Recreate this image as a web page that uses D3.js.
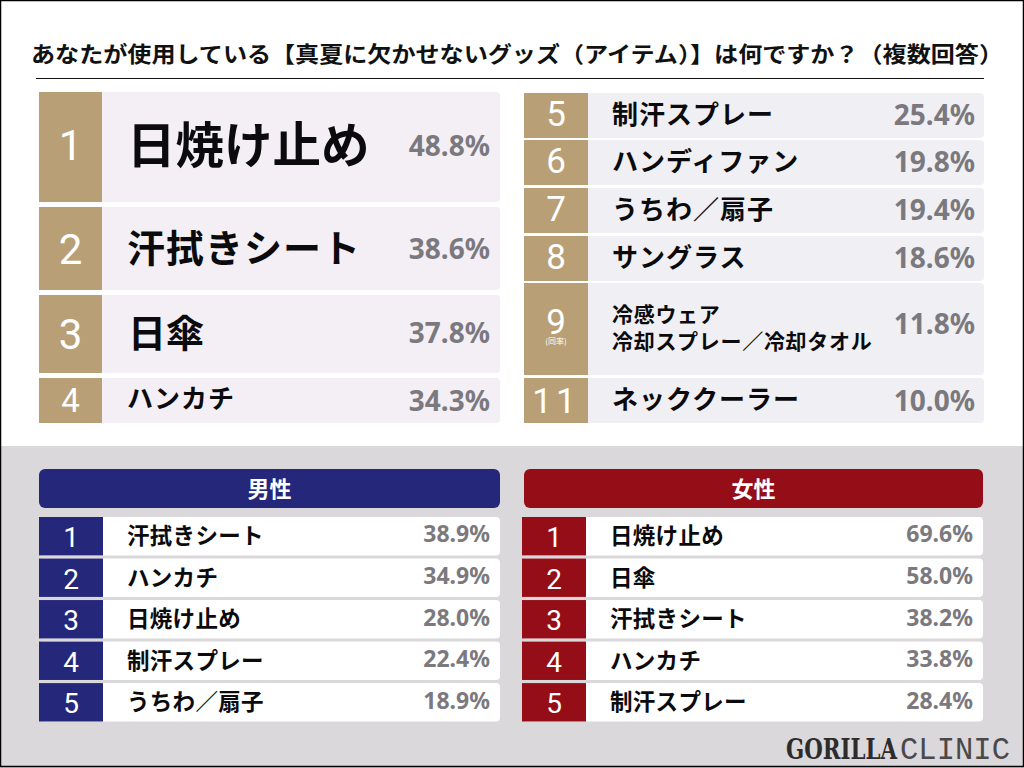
<!DOCTYPE html>
<html lang="ja">
<head>
<meta charset="utf-8">
<script src="https://cdn.jsdelivr.net/npm/d3@7"></script>
<style>
  html, body { margin: 0; padding: 0; background: #fff; }
  svg { display: block; }
  text { font-family: "Noto Sans CJK JP", sans-serif; }
  .pct { font-family: "Noto Sans", "Noto Sans CJK JP", sans-serif; font-weight: 700; fill: #7b797e; }
  .rank { font-family: Roboto, sans-serif; font-weight: 400; fill: #fff; }
  .tie { font-family: "Noto Sans CJK JP", sans-serif; }
  .name { font-weight: 700; fill: #0b0b0d; }
</style>
</head>
<body>
<svg id="chart" width="1024" height="768" viewBox="0 0 1024 768"></svg>
<script>
// Data.
const titleText = 'あなたが使用している【真夏に欠かせないグッズ（アイテム）】は何ですか？（複数回答）';

const overallRanks  = [ '1', '2', '3', '4', '5', '6', '7', '8', '9', '11' ];
const overallItems  = [ '日焼け止め', '汗拭きシート', '日傘', 'ハンカチ', '制汗スプレー', 'ハンディファン', 'うちわ／扇子', 'サングラス', '冷感ウェア\n冷却スプレー／冷却タオル', 'ネッククーラー' ];
const overallValues = [ 48.8, 38.6, 37.8, 34.3, 25.4, 19.8, 19.4, 18.6, 11.8, 10.0 ];

const genderRanks = [ '1', '2', '3', '4', '5' ];
const maleItems   = [ '汗拭きシート', 'ハンカチ', '日焼け止め', '制汗スプレー', 'うちわ／扇子' ];
const maleValues  = [ 38.9, 34.9, 28.0, 22.4, 18.9 ];
const femaleItems  = [ '日焼け止め', '日傘', '汗拭きシート', 'ハンカチ', '制汗スプレー' ];
const femaleValues = [ 69.6, 58.0, 38.2, 33.8, 28.4 ];

const svg = d3.select( '#chart' );
const pct = d3.format( '.1f' );

// Page background, lower band and frame.
svg.append( 'rect' ).attr( 'y', 446 ).attr( 'width', 1024 ).attr( 'height', 322 ).attr( 'fill', '#dad8db' );
svg.append( 'rect' ).attr( 'x', 0.5 ).attr( 'y', 0.5 ).attr( 'width', 1023 ).attr( 'height', 766 )
  .attr( 'fill', 'none' ).attr( 'stroke', '#000' ).attr( 'stroke-width', 1.5 );

// Title and rule.
svg.append( 'text' )
  .attr( 'x', 31 ).attr( 'y', 62 )
  .attr( 'textLength', 972 ).attr( 'lengthAdjust', 'spacingAndGlyphs' )
  .attr( 'font-size', 22 ).attr( 'font-weight', 700 ).attr( 'fill', '#111' )
  .text( titleText );
svg.append( 'line' ).attr( 'x1', 36 ).attr( 'x2', 984 ).attr( 'y1', 78.5 ).attr( 'y2', 78.5 )
  .attr( 'stroke', '#111' ).attr( 'stroke-width', 1 );

// Draws one column of ranking rows. Row tops come from a band scale or a
// hand-placed ordinal scale, since the top rows differ in height.
function drawRows ( opts ) {
  const rows = opts.items.map( ( item, i ) => ( {
    rank : opts.ranks[i], item : item, value : opts.values[i], i : i
  } ) );
  const g = svg.append( 'g' ).selectAll( 'g' ).data( rows ).enter().append( 'g' )
    .attr( 'transform', d => `translate( ${opts.x}, ${opts.top( d.rank )} )` );

  g.append( 'rect' )
    .attr( 'width', opts.width ).attr( 'height', d => opts.height( d.rank ) )
    .attr( 'rx', 4 ).attr( 'fill', opts.rowFill );
  g.append( 'rect' )
    .attr( 'width', opts.rankWidth ).attr( 'height', d => opts.height( d.rank ) )
    .attr( 'fill', opts.rankFill );

  const rank = g.append( 'text' ).attr( 'class', 'rank' )
    .attr( 'x', opts.rankWidth / 2 )
    .attr( 'y', d => opts.height( d.rank ) / 2 + opts.rankSize( d.i ) * 0.36 + opts.rankDy( d.i ) )
    .attr( 'text-anchor', 'middle' )
    .attr( 'font-size', d => opts.rankSize( d.i ) )
    .attr( 'letter-spacing', d => d.rank === '11' ? 4 : 0 )
    .text( d => d.rank );

  // The tied rank carries its note in the same text, on a second line.
  rank.filter( d => d.rank === '9' ).append( 'tspan' ).attr( 'class', 'tie' )
    .attr( 'x', opts.rankWidth / 2 ).attr( 'dy', 10.5 )
    .attr( 'font-size', 8 )
    .text( '(同率)' );

  g.each( function ( d ) {
    const lines = d.item.split( '\n' );
    const size  = opts.nameSize( d.i );
    const x     = opts.nameX( d.i );
    const text  = d3.select( this ).append( 'text' ).attr( 'class', 'name' )
      .attr( 'x', x )
      .attr( 'y', opts.height( d.rank ) / 2 + size * 0.36 + opts.nameDy( d.i ) - ( lines.length - 1 ) / 2 * 27 )
      .attr( 'font-size', size )
      .attr( 'letter-spacing', opts.nameSpacing( d.i ) );
    lines.forEach( ( line, n ) => {
      text.append( 'tspan' ).attr( 'x', x ).attr( 'dy', n ? 27 : 0 ).text( line );
    } );
  } );

  g.append( 'text' ).attr( 'class', 'pct' )
    .attr( 'x', opts.pctX )
    .attr( 'y', d => opts.height( d.rank ) / 2 + opts.pctSize * 0.36 + opts.pctDy( d.i ) )
    .attr( 'text-anchor', 'end' )
    .attr( 'font-size', opts.pctSize )
    .text( d => pct( d.value ) + '%' );
}

// Overall ranking, left and right columns.
const gold = '#b99f75';
const leftRanks  = overallRanks.slice( 0, 4 );
const rightRanks = overallRanks.slice( 4 );
const leftTop    = d3.scaleOrdinal( leftRanks,  [ 92, 207, 295, 378 ] );
const leftHeight = d3.scaleOrdinal( leftRanks,  [ 110, 83, 78, 45 ] );
const rightTop    = d3.scaleOrdinal( rightRanks, [ 93, 140, 188, 236, 283, 378 ] );
const rightHeight = d3.scaleOrdinal( rightRanks, [ 45, 45, 45, 45, 92, 45 ] );

drawRows( {
  x : 39, width : 461, rankWidth : 63, rowFill : '#f3eff5', rankFill : gold,
  ranks : leftRanks, items : overallItems.slice( 0, 4 ), values : overallValues.slice( 0, 4 ),
  top : leftTop, height : leftHeight,
  rankSize : i => [ 42, 42, 42, 33 ][i],
  rankDy : i => [ -2, 0, 0, 0 ][i],
  nameSize : i => [ 48.5, 38, 38, 26 ][i],
  nameX : i => [ 88, 88, 89, 88 ][i],
  nameDy : i => [ -1, 0, -1, -2 ][i],
  nameSpacing : i => [ 0, 1, 0, 1 ][i],
  pctX : 451, pctSize : 28, pctDy : i => [ -1, 0, -1, 0 ][i]
} );

drawRows( {
  x : 524, width : 460, rankWidth : 64, rowFill : '#f0eff3', rankFill : gold,
  ranks : rightRanks, items : overallItems.slice( 4 ), values : overallValues.slice( 4 ),
  top : rightTop, height : rightHeight,
  rankSize : i => 35,
  rankDy : i => [ -2, -2, -2, -2, -8, 0 ][i],
  nameSize : i => i === 4 ? 21 : 26,
  nameX : i => 88,
  nameDy : i => -1,
  nameSpacing : i => i === 4 ? 0.7 : 1,
  pctX : 451, pctSize : 28, pctDy : i => [ -1, -1, -1, -1, -5, 0 ][i]
} );

// Gender panels.
const genderTop = d3.scaleBand().domain( genderRanks ).range( [ 517, 721.5 ] ).paddingInner( 0.075 ).paddingOuter( 0 );

function drawGender ( x, headX, headW, label, color, items, values ) {
  svg.append( 'rect' ).attr( 'x', headX ).attr( 'y', 469 ).attr( 'width', headW ).attr( 'height', 39 )
    .attr( 'rx', 6 ).attr( 'fill', color );
  svg.append( 'text' )
    .attr( 'x', headX + headW / 2 ).attr( 'y', 496.5 ).attr( 'text-anchor', 'middle' )
    .attr( 'font-size', 22 ).attr( 'font-weight', 700 ).attr( 'fill', '#fff' )
    .text( label );
  drawRows( {
    x : x, width : 461, rankWidth : 64, rowFill : '#fff', rankFill : color,
    ranks : genderRanks, items : items, values : values,
    top : r => genderTop( r ), height : () => genderTop.bandwidth(),
    rankSize : i => 28,
    rankDy : i => 1,
    nameSize : i => 22.5,
    nameX : i => 88,
    nameDy : i => 0,
    nameSpacing : i => 0.3,
    pctX : 451, pctSize : 23, pctDy : i => -2
  } );
}
drawGender( 39, 39, 461, '男性', '#24277a', maleItems, maleValues );
drawGender( 522, 524, 459, '女性', '#950d17', femaleItems, femaleValues );

// Logo. Each word is squeezed to its width with a scale, so its box is the drawn one.
function drawLogoWord ( x, width, word, family, size, weight, fill ) {
  const text = svg.append( 'text' )
    .attr( 'font-size', size ).attr( 'font-weight', weight ).attr( 'fill', fill )
    .style( 'font-family', family )
    .text( word );
  const sx = width / text.node().getComputedTextLength();
  text.attr( 'transform', `translate( ${x}, 759 ) scale( ${sx}, 1 )` );
}
drawLogoWord( 786, 111, 'GORILLA', '"DejaVu Serif"', 28, 700, '#2d2b2c' );
drawLogoWord( 900, 110, 'CLINIC', '"Liberation Mono"', 31, 400, '#4a4849' );
</script>
</body>
</html>
